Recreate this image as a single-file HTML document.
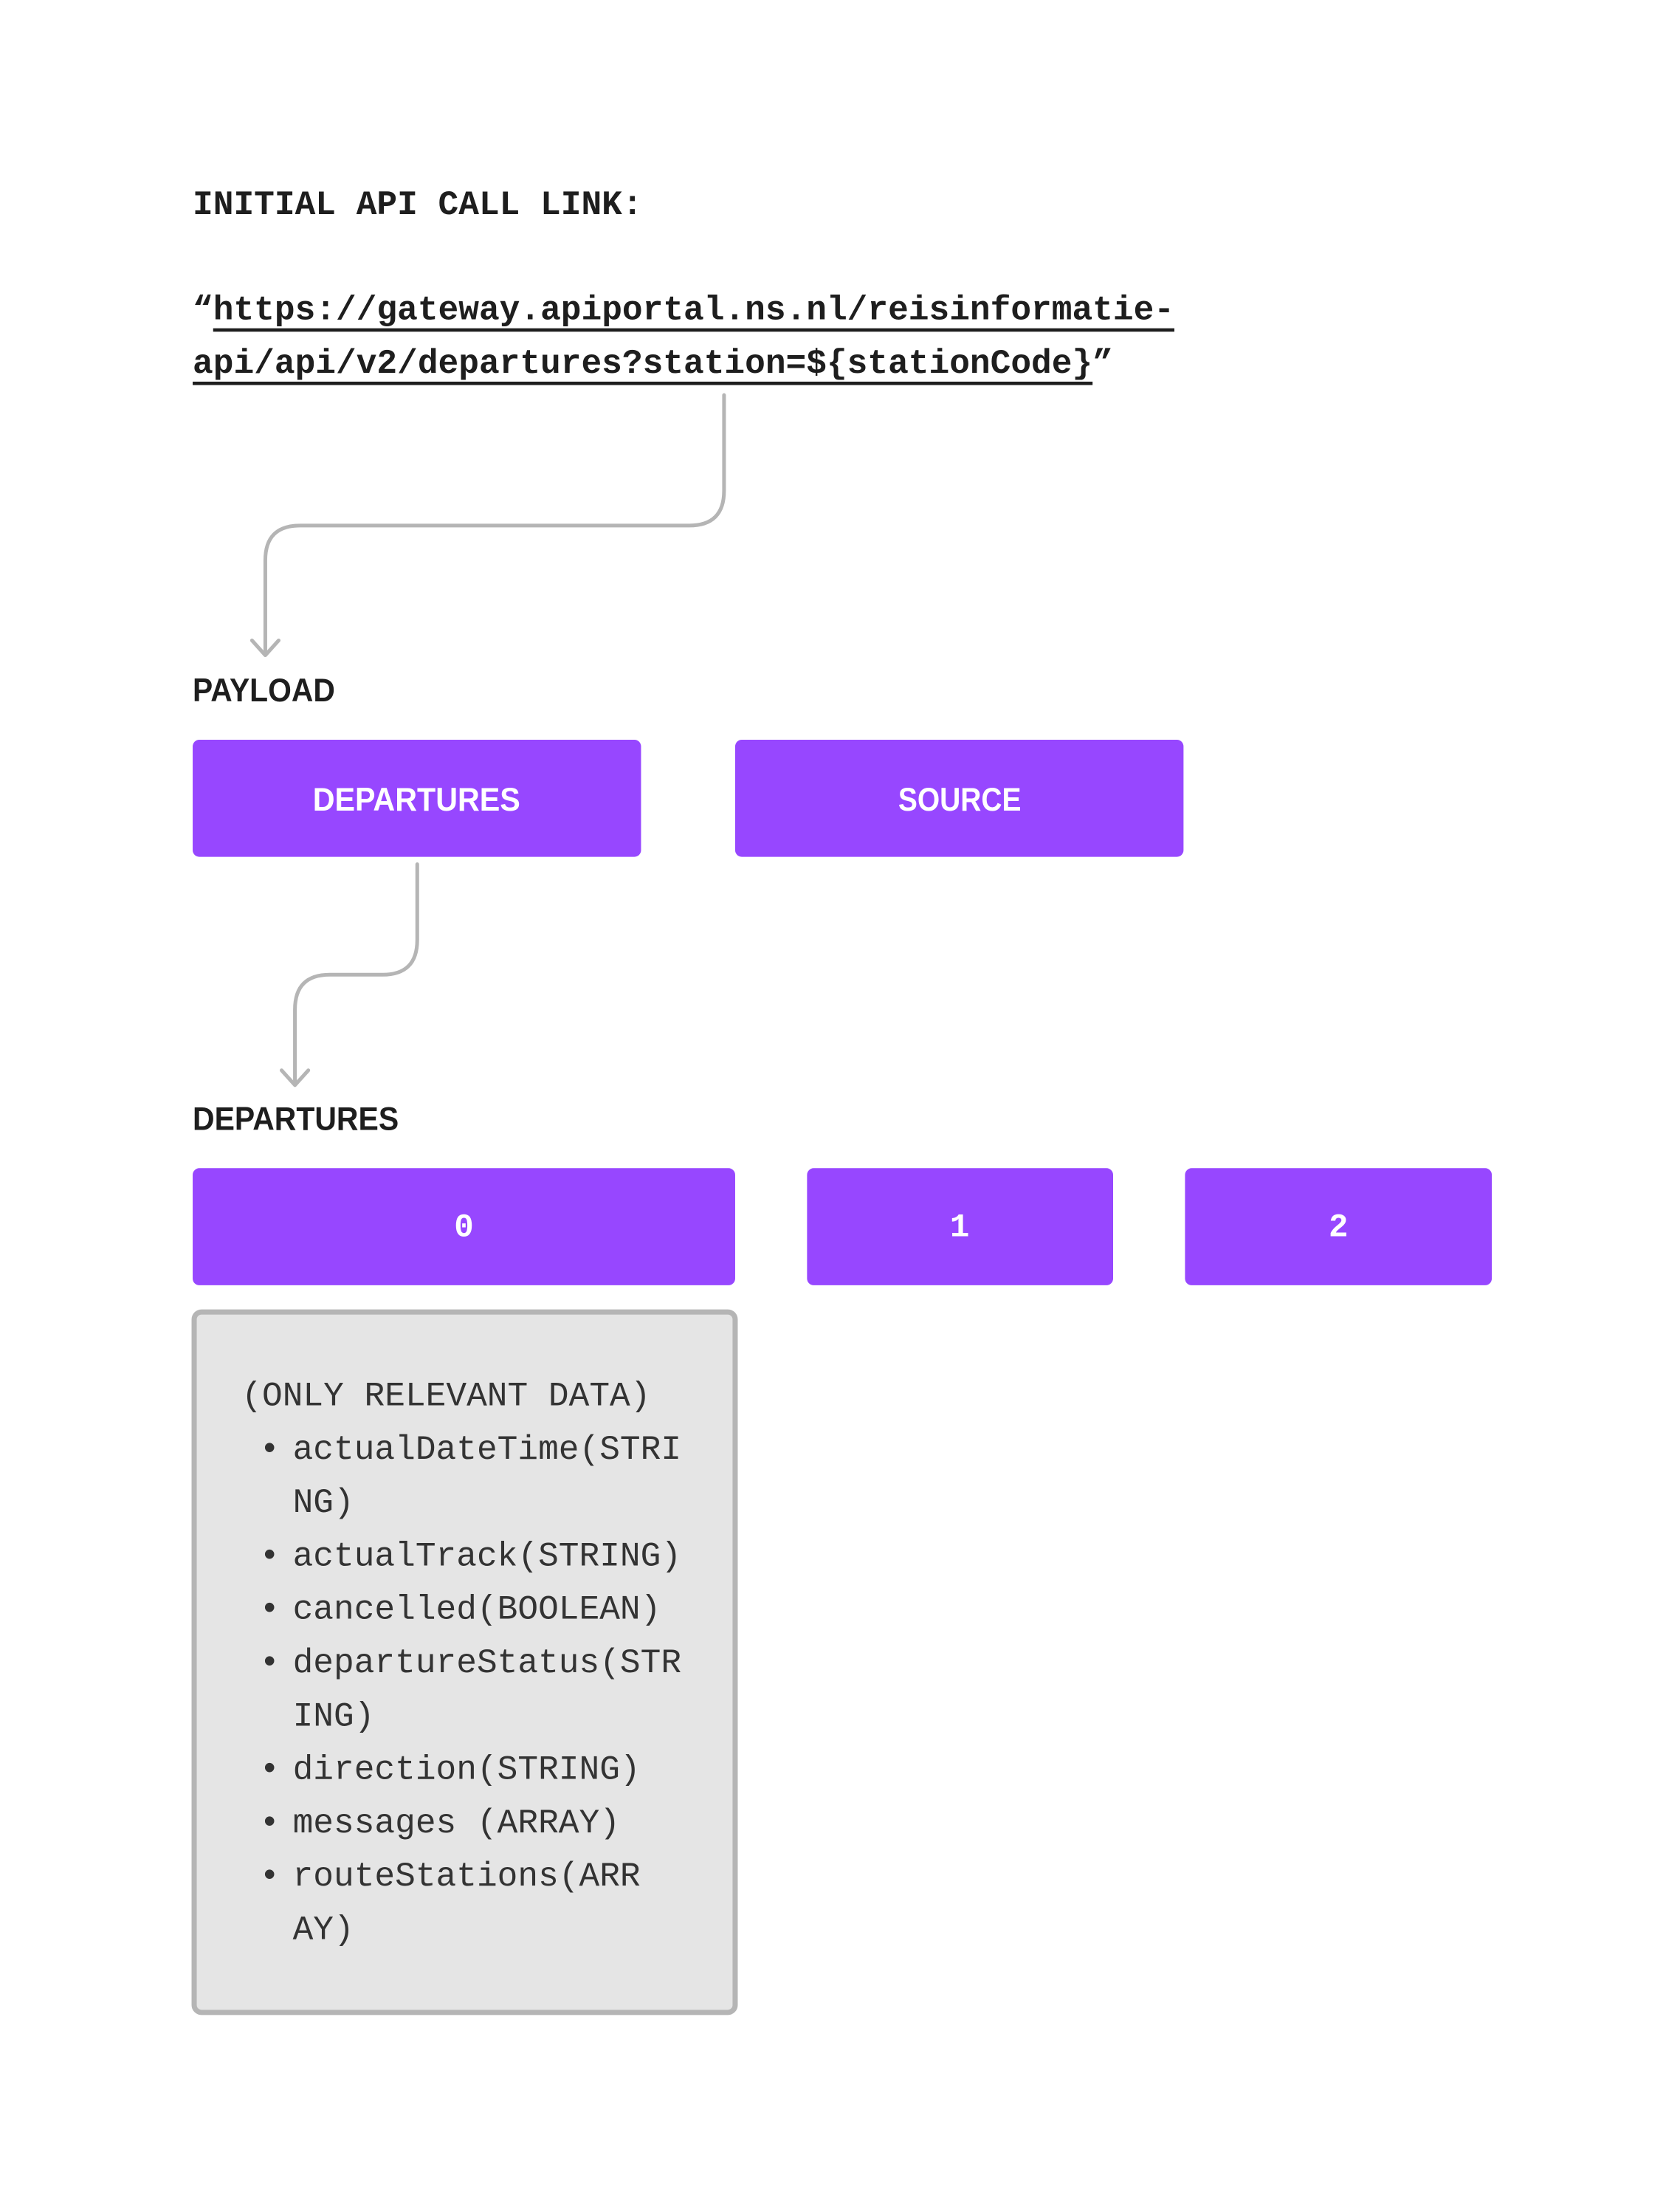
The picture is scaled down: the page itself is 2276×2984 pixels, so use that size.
<!DOCTYPE html>
<html><head><meta charset="utf-8"><style>
html,body{margin:0;padding:0;background:#fff}
svg{display:block}
.m{font-family:"Liberation Mono",monospace}
.s{font-family:"Liberation Sans",sans-serif;font-weight:bold}
</style></head><body>
<svg width="2276" height="2984" viewBox="0 0 2276 2984" xmlns="http://www.w3.org/2000/svg">
<rect width="2276" height="2984" fill="#fff"/>
<g transform="scale(1.004)">
<text class="m" x="260" y="277" font-size="46" font-weight="bold" fill="#1e1e1e" dominant-baseline="central">INITIAL API CALL LINK:</text>
<text class="m" x="260" y="419" font-size="46" font-weight="bold" fill="#1e1e1e" dominant-baseline="central">“<tspan text-decoration="underline">https://gateway.apiportal.ns.nl/reisinformatie-</tspan></text>
<text class="m" x="260" y="491" font-size="46" font-weight="bold" fill="#1e1e1e" dominant-baseline="central"><tspan text-decoration="underline">api/api/v2/departures?station=${stationCode}</tspan>”</text>
<g fill="none" stroke="#b5b5b5" stroke-width="5" stroke-linecap="round" stroke-linejoin="round">
<path d="M977 533 V662 Q977 709 930 709 H405 Q358 709 358 756 V882"/>
<path d="M340 864 L358 884 L376 864"/>
<path d="M563 1166 V1268 Q563 1315 516 1315 H445 Q398 1315 398 1362 V1462"/>
<path d="M380 1444 L398 1464 L416 1444"/>
</g>
<text class="s" x="260" y="932" font-size="44" fill="#1e1e1e" dominant-baseline="central" textLength="192" lengthAdjust="spacingAndGlyphs">PAYLOAD</text>
<g fill="#9747ff">
<rect x="260" y="998" width="605" height="158" rx="9"/>
<rect x="992" y="998" width="605" height="158" rx="9"/>
<rect x="260" y="1576" width="732" height="158" rx="9"/>
<rect x="1089" y="1576" width="413" height="158" rx="9"/>
<rect x="1599" y="1576" width="414" height="158" rx="9"/>
</g>
<g class="s" font-size="44" fill="#fff" text-anchor="middle" dominant-baseline="central">
<text x="562" y="1079" textLength="280" lengthAdjust="spacingAndGlyphs">DEPARTURES</text>
<text x="1295" y="1079" textLength="166" lengthAdjust="spacingAndGlyphs">SOURCE</text>
</g>
<g class="m" font-size="44" font-weight="bold" fill="#fff" text-anchor="middle" dominant-baseline="central">
<text x="626" y="1657">0</text>
<text x="1295" y="1657">1</text>
<text x="1806" y="1657">2</text>
</g>
<text class="s" x="260" y="1510" font-size="44" fill="#1e1e1e" dominant-baseline="central" textLength="278" lengthAdjust="spacingAndGlyphs">DEPARTURES</text>
<rect x="262" y="1770" width="730" height="945" rx="10" fill="#e5e5e5" stroke="#b5b5b5" stroke-width="7"/>
<g class="m" font-size="46" fill="#333" dominant-baseline="central">
<text x="326" y="1884">(ONLY RELEVANT DATA)</text>
<text x="350" y="1956">•</text><text x="395" y="1956">actualDateTime(STRI</text>
<text x="395" y="2028">NG)</text>
<text x="350" y="2100">•</text><text x="395" y="2100">actualTrack(STRING)</text>
<text x="350" y="2172">•</text><text x="395" y="2172">cancelled(BOOLEAN)</text>
<text x="350" y="2244">•</text><text x="395" y="2244">departureStatus(STR</text>
<text x="395" y="2316">ING)</text>
<text x="350" y="2388">•</text><text x="395" y="2388">direction(STRING)</text>
<text x="350" y="2460">•</text><text x="395" y="2460">messages (ARRAY)</text>
<text x="350" y="2532">•</text><text x="395" y="2532">routeStations(ARR</text>
<text x="395" y="2604">AY)</text>
</g>
</g>
</svg>
</body></html>
